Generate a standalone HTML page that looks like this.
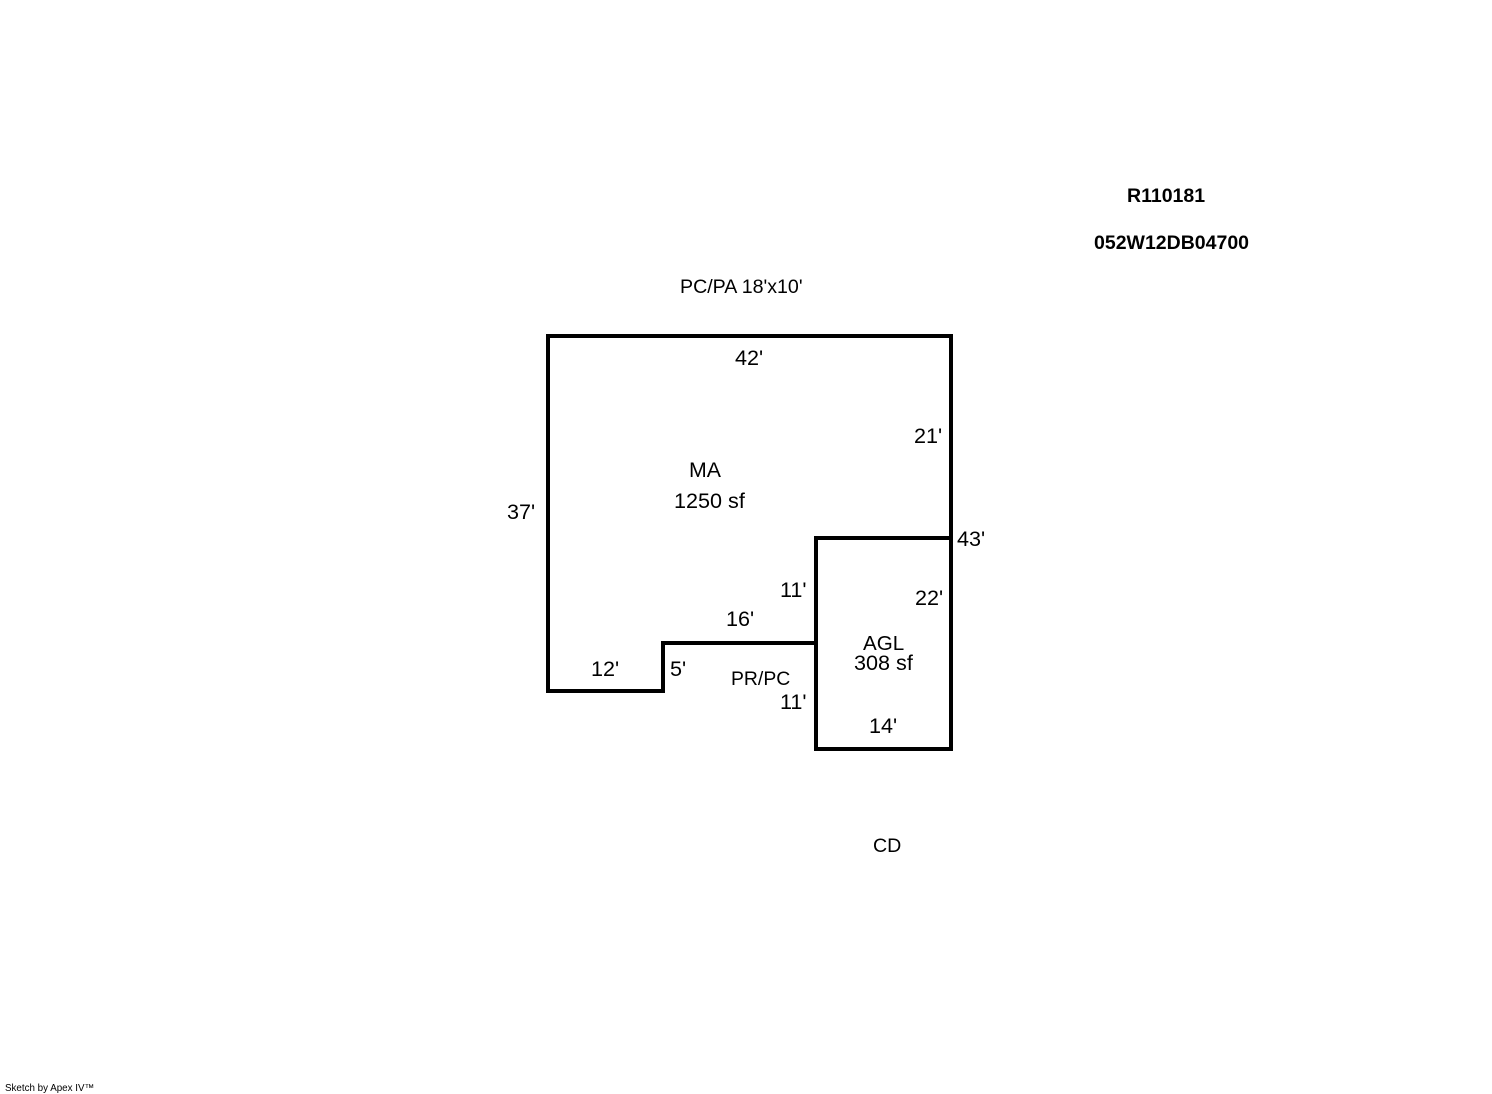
<!DOCTYPE html>
<html><head><meta charset="utf-8"><style>
html,body{margin:0;padding:0;background:#fff;width:1492px;height:1094px;overflow:hidden}
svg{display:block}
text{font-family:"Liberation Sans",Arial,sans-serif;fill:#000;font-size:21.6px}
.m{font-size:19.6px}
.b{font-size:19.5px;font-weight:bold}
</style></head><body>
<svg width="1492" height="1094" viewBox="0 0 1492 1094" xmlns="http://www.w3.org/2000/svg">
<rect width="1492" height="1094" fill="#fff"/>
<g fill="none" stroke="#000" stroke-width="4" stroke-linecap="square" stroke-linejoin="miter" shape-rendering="crispEdges">
<path d="M548 336H951V749H816V643H663V691H548Z"/>
<path d="M816 643V538H951"/>
</g>
<text class="b" x="1127" y="202">R110181</text>
<text class="b" x="1094" y="249">052W12DB04700</text>
<text class="m" x="680" y="293">PC/PA 18'x10'</text>
<text x="735" y="365">42'</text>
<text x="914" y="443">21'</text>
<text x="689" y="477" style="font-size:21.3px">MA</text>
<text x="674" y="508">1250 sf</text>
<text x="507" y="519">37'</text>
<text x="957" y="546">43'</text>
<text x="780" y="597">11'</text>
<text x="915" y="605">22'</text>
<text x="726" y="626">16'</text>
<text x="863" y="650" style="font-size:20.6px">AGL</text>
<text x="854" y="670">308 sf</text>
<text x="591" y="676">12'</text>
<text x="670" y="676">5'</text>
<text class="m" x="731" y="685" style="font-size:19.4px">PR/PC</text>
<text x="780" y="709">11'</text>
<text x="869" y="733">14'</text>
<text class="m" x="873" y="852" style="font-size:19.6px">CD</text>
<text x="5" y="1091" style="font-size:9.8px">Sketch by Apex IV™</text>
</svg>
</body></html>
